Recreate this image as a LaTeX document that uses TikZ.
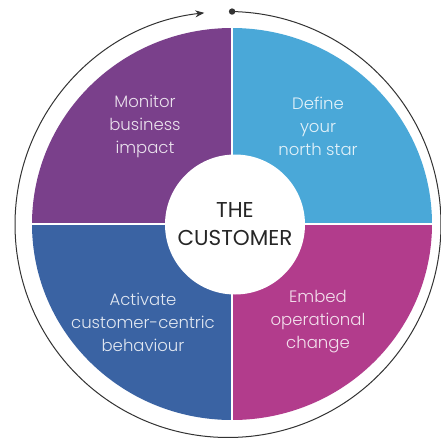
\documentclass[tikz,border=0pt]{standalone}
\usepackage{fontspec}
\setmainfont{Poppins Light}
\newfontfamily\custfont{Poppins}
\usetikzlibrary{arrows.meta}
\definecolor{cpurple}{HTML}{7A408B}
\definecolor{cblue}{HTML}{4AA8D8}
\definecolor{cdblue}{HTML}{3A63A3}
\definecolor{cmag}{HTML}{B23C8C}
\definecolor{cring}{HTML}{333333}
\begin{document}
\begin{tikzpicture}[x=1pt,y=-1pt,
  lbl/.style={align=center, text=white, text opacity=0.85, font=\fontsize{16.5}{23}\selectfont, inner sep=0pt},
  gap/.style={white, line width=2.5pt},
  ring/.style={cring, line width=1pt}]
\useasboundingbox (0,0) rectangle (441,442);
\fill[white] (0,0) rectangle (441,442);
\coordinate (P) at (232,224);
\coordinate (R) at (228,224.5);
\begin{scope}
  \clip (P) ellipse [x radius=200, y radius=196];
  \fill[cpurple] (0,0) rectangle (P);
  \fill[cblue] (232,0) rectangle (441,224);
  \fill[cdblue] (0,224) rectangle (232,442);
  \fill[cmag] (P) rectangle (441,442);
\end{scope}
\draw[gap] (232,20) -- (232,430);
\draw[gap] (20,224) -- (440,224);
\node[circle, fill=white, minimum size=140pt, inner sep=0pt, align=center,
  text=black!85, font=\custfont\fontsize{21.5}{28}\selectfont] (cust) at (235,224.5) {THE\\CUSTOMER};
\node[lbl] (monitor) at (145,126.5) {Monitor\\business\\impact};
\node[lbl] (define) at (318,126.5) {Define\\your\\north star};
\node[lbl] (activate) at (143,322) {Activate\\customer-centric\\behaviour};
\node[lbl] (embed) at (318,321.5) {Embed\\operational\\change};
\coordinate (start) at ([shift={(-88.9:213)}]R);
\draw[ring, -{Stealth[length=9pt,width=7pt]}] (start) arc[start angle=-88.9, end angle=263.6, radius=213];
\fill[cring] (start) circle (3.2);
\end{tikzpicture}
\end{document}
